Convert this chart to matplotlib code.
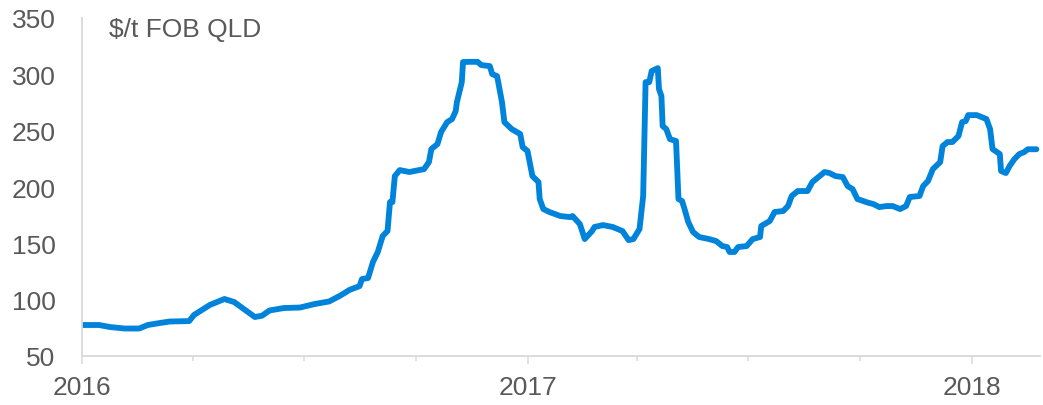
import matplotlib
matplotlib.use("Agg")
import matplotlib.pyplot as plt
import matplotlib.dates as mdates
import pandas as pd

plt.rcParams["font.family"] = ["Liberation Sans", "DejaVu Sans"]

# Hard coking coal price, US$/t FOB Queensland
dates = [
    "2016-01-01", "2016-01-15", "2016-01-24", "2016-02-05", "2016-02-17", "2016-02-24",
    "2016-03-05", "2016-03-13", "2016-03-29", "2016-04-02", "2016-04-15", "2016-04-27",
    "2016-05-05", "2016-05-14", "2016-05-22", "2016-05-28", "2016-06-03", "2016-06-15",
    "2016-06-28", "2016-07-10", "2016-07-22", "2016-07-31", "2016-08-08", "2016-08-16",
    "2016-08-18", "2016-08-23", "2016-08-27", "2016-08-31", "2016-09-04", "2016-09-08",
    "2016-09-10", "2016-09-12", "2016-09-14", "2016-09-18", "2016-09-26", "2016-10-04",
    "2016-10-08", "2016-10-12", "2016-10-14", "2016-10-19", "2016-10-22", "2016-10-27",
    "2016-10-31", "2016-11-03", "2016-11-04", "2016-11-08", "2016-11-09", "2016-11-14",
    "2016-11-21", "2016-11-24", "2016-12-01", "2016-12-03", "2016-12-07", "2016-12-11",
    "2016-12-13", "2016-12-19", "2016-12-26", "2016-12-28", "2017-01-01", "2017-01-05",
    "2017-01-10", "2017-01-11", "2017-01-14", "2017-01-19", "2017-01-28", "2017-02-05",
    "2017-02-07", "2017-02-13", "2017-02-17", "2017-02-23", "2017-02-25", "2017-03-04",
    "2017-03-12", "2017-03-20", "2017-03-25", "2017-03-29", "2017-04-03", "2017-04-06",
    "2017-04-07", "2017-04-08", "2017-04-11", "2017-04-13", "2017-04-18", "2017-04-19",
    "2017-04-21", "2017-04-22", "2017-04-25", "2017-04-28", "2017-05-03", "2017-05-05",
    "2017-05-08", "2017-05-10", "2017-05-13", "2017-05-17", "2017-05-22", "2017-05-30",
    "2017-06-05", "2017-06-10", "2017-06-14", "2017-06-16", "2017-06-20", "2017-06-23",
    "2017-06-30", "2017-07-05", "2017-07-11", "2017-07-12", "2017-07-19", "2017-07-23",
    "2017-07-30", "2017-08-03", "2017-08-06", "2017-08-11", "2017-08-19", "2017-08-23",
    "2017-08-29", "2017-09-02", "2017-09-06", "2017-09-11", "2017-09-17", "2017-09-21",
    "2017-09-25", "2017-09-29", "2017-10-04", "2017-10-08", "2017-10-12", "2017-10-17",
    "2017-10-23", "2017-10-28", "2017-11-03", "2017-11-08", "2017-11-11", "2017-11-19",
    "2017-11-22", "2017-11-26", "2017-11-30", "2017-12-06", "2017-12-08", "2017-12-12",
    "2017-12-16", "2017-12-21", "2017-12-24", "2017-12-27", "2017-12-29", "2018-01-05",
    "2018-01-09", "2018-01-13", "2018-01-16", "2018-01-18", "2018-01-24", "2018-01-25",
    "2018-01-29", "2018-02-01", "2018-02-05", "2018-02-09", "2018-02-13", "2018-02-16",
    "2018-02-23",
]
prices = [
    77.5, 77.5, 75.7, 74.4, 74.4, 77.5,
    79.3, 80.6, 81.0, 86.4, 95.3, 100.6,
    97.9, 90.8, 84.6, 85.8, 90.4, 92.6,
    93.0, 96.1, 98.4, 103.5, 108.8, 112.0,
    118.3, 119.2, 133.4, 142.3, 156.5, 161.0,
    186.6, 186.6, 209.7, 215.0, 213.3, 215.0,
    215.9, 222.1, 233.7, 238.1, 248.8, 257.6,
    260.3, 267.4, 275.4, 293.1, 310.9, 311.1,
    311.1, 308.2, 307.3, 300.2, 298.4, 275.4,
    257.6, 251.4, 247.0, 235.4, 231.9, 209.7,
    204.4, 189.3, 180.4, 177.8, 174.2, 173.3,
    174.2, 167.1, 153.8, 160.9, 164.5, 166.2,
    164.5, 160.9, 152.9, 153.8, 162.7, 192.0,
    242.5, 293.1, 293.1, 302.9, 305.5, 286.9,
    280.7, 254.1, 251.4, 242.5, 240.8, 189.3,
    187.5, 180.4, 169.0, 160.0, 155.6, 153.8,
    152.0, 147.6, 146.7, 142.3, 142.3, 146.7,
    147.6, 153.8, 155.6, 165.4, 169.8, 177.8,
    178.7, 183.1, 192.0, 196.4, 196.4, 204.4,
    209.7, 213.3, 212.4, 209.7, 208.8, 200.8,
    198.2, 189.3, 187.5, 186.0, 184.9, 182.2,
    183.1, 183.1, 180.4, 183.1, 191.1, 192.0,
    200.8, 205.3, 215.9, 222.1, 236.3, 239.9,
    239.9, 245.2, 257.6, 258.5, 263.8, 263.8,
    262.1, 260.3, 251.4, 233.7, 229.2, 214.2,
    212.4, 218.6, 224.8, 229.2, 231.0, 233.5,
    233.5,
]
year_labels = ["2016", "2017", "2018"]
y_ticks = [50, 100, 150, 200, 250, 300, 350]
unit_label = "$/t FOB QLD"

text_color = "#595959"
axis_color = "#D9D9D9"
line_color = "#0083DB"

x = pd.to_datetime(dates)

fig = plt.figure(figsize=(10.43, 4.06), dpi=100)
ax = fig.add_axes([82 / 1043, 1 - 357 / 406, (1040 - 82) / 1043, (357 - 19) / 406])

ax.plot(x, prices, color=line_color, lw=4.2, solid_joinstyle="round",
        solid_capstyle="round")

ax.set_ylim(50, 350)
ax.set_yticks(y_ticks)
ax.set_xlim(pd.Timestamp("2016-01-01"), pd.Timestamp("2018-02-26"))

ax.xaxis.set_major_locator(mdates.YearLocator())
ax.xaxis.set_major_formatter(mdates.DateFormatter("%Y"))
ax.xaxis.set_minor_locator(mdates.MonthLocator(bymonth=[4, 7, 10]))

for side in ("top", "right"):
    ax.spines[side].set_visible(False)
for side in ("left", "bottom"):
    ax.spines[side].set_color(axis_color)
    ax.spines[side].set_linewidth(1.3)

ax.tick_params(axis="y", length=0, pad=19, labelsize=19, labelcolor=text_color)
ax.tick_params(axis="x", which="major", length=6, width=1.1, color=axis_color,
               pad=8, labelsize=19, labelcolor=text_color)
ax.tick_params(axis="x", which="minor", length=3.8, width=1.1, color=axis_color)

ax.text(109 / 1043, 1 - 30 / 406, unit_label, transform=fig.transFigure,
        fontsize=19, color=text_color, ha="left", va="center")

fig.savefig("out.png", dpi=100)
